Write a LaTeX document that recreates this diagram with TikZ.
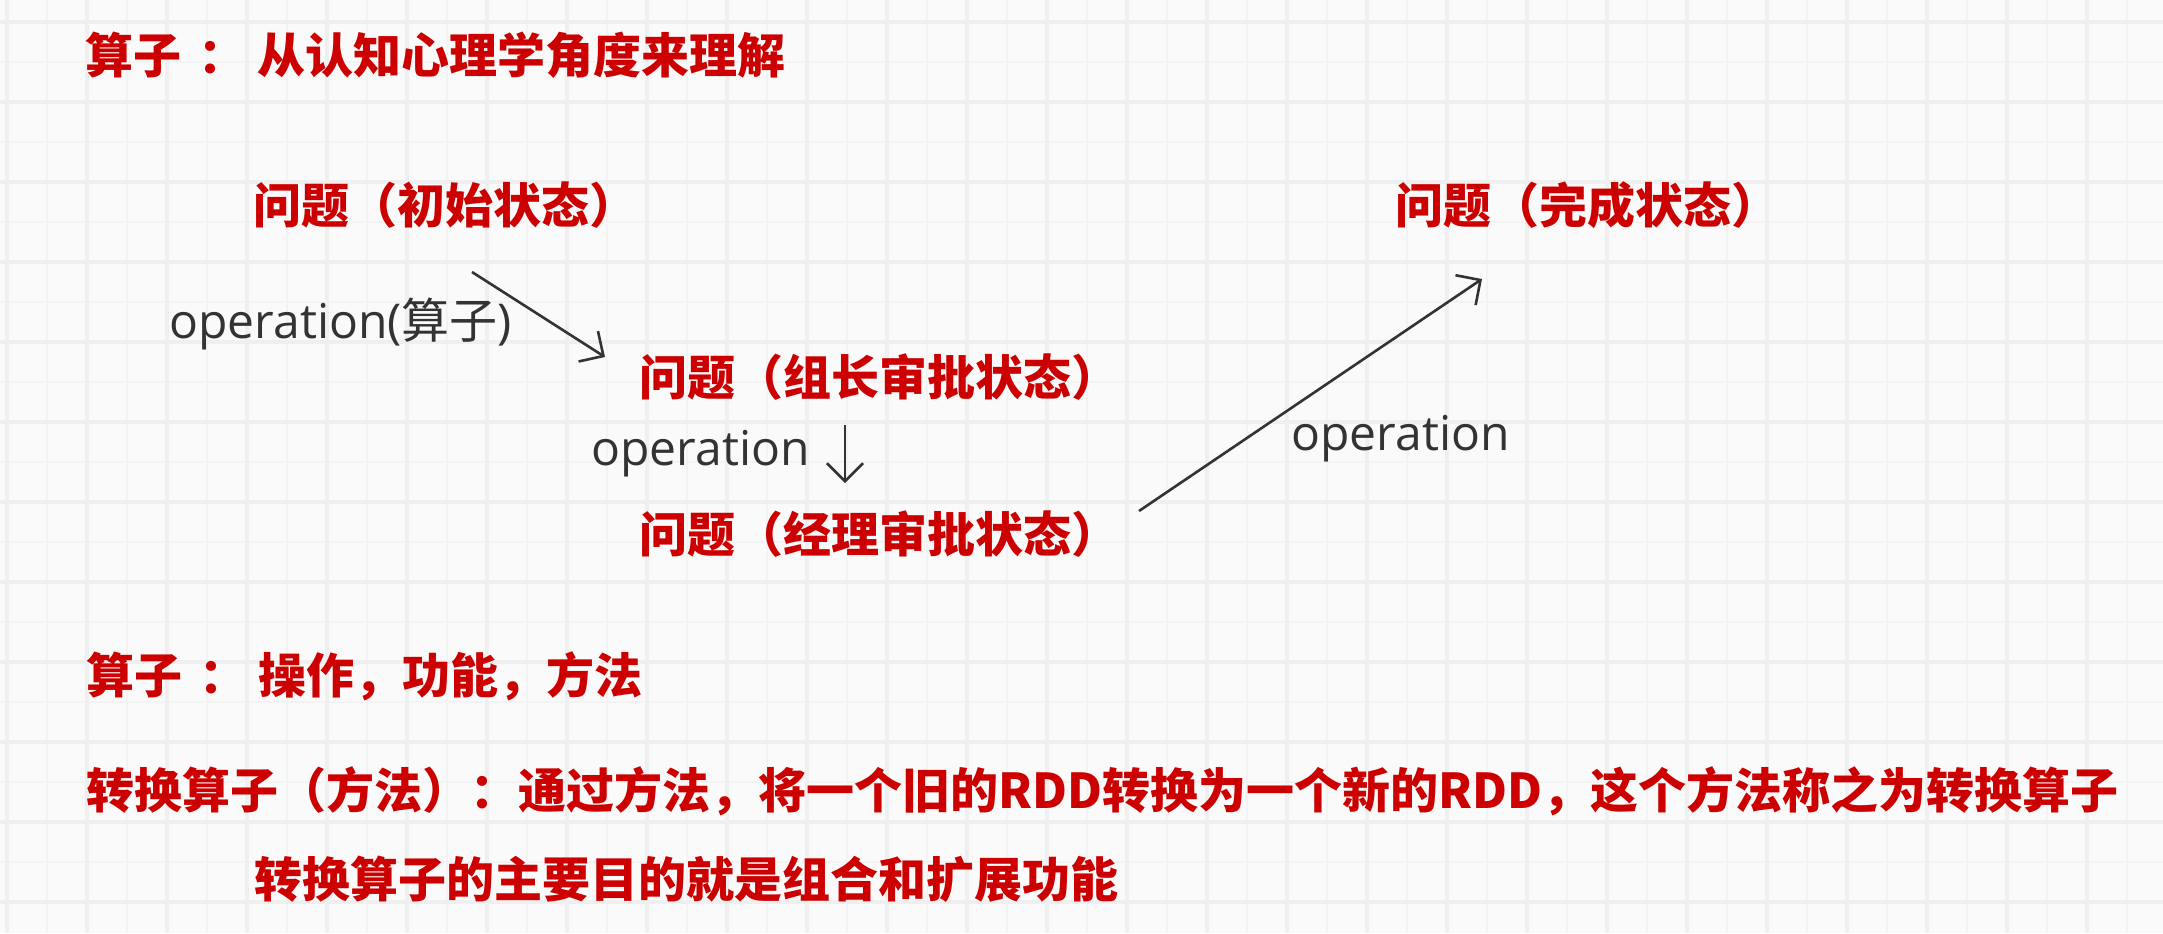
\documentclass[tikz,border=0pt]{standalone}
\usepackage{fontspec}
\usetikzlibrary{arrows.meta}
\newfontfamily\cjk{Noto Sans CJK SC}
\newfontfamily\latinfont{Open Sans}
\definecolor{titlered}{HTML}{CC0000}
\definecolor{inkgray}{HTML}{333333}
\definecolor{paper}{HTML}{FAFAFA}
\definecolor{gridthin}{HTML}{F3F3F3}
\definecolor{gridthick}{HTML}{EFEFEF}
\newcommand{\spacedcolon}{\hspace{8.5pt}：\hspace{5.5pt}}

\begin{document}
\begin{tikzpicture}[x=0.5pt, y=-0.5pt,
  state/.style={anchor=base west, inner sep=0pt, text=titlered,
    font=\cjk\bfseries\fontsize{24pt}{28pt}\selectfont},
  oplabel/.style={anchor=base west, inner sep=0pt, text=inkgray,
    font=\latinfont\fontsize{24pt}{28pt}\selectfont},
  oparrow/.style={draw=inkgray, line width=1.3pt,
    -{Straight Barb[length=9pt, width=18pt, line width=1.3pt]}}]
% grid paper
\useasboundingbox (0,0) rectangle (2163,933);
\fill[paper] (0,0) rectangle (2163,933);
\foreach \gx in {47,127,...,2127} \draw[gridthin, line width=0.9pt] (\gx,0) -- (\gx,933);
\foreach \gy in {62,142,...,862} \draw[gridthin, line width=0.9pt] (0,\gy) -- (2163,\gy);
\foreach \gx in {7,87,...,2087} \draw[gridthick, line width=1.6pt] (\gx,0) -- (\gx,933);
\foreach \gy in {22,102,...,902} \draw[gridthick, line width=1.6pt] (0,\gy) -- (2163,\gy);

% states of the problem
\node[state] (title) at (85,73) {算子\spacedcolon 从认知心理学角度来理解};
\node[state] (init) at (253,223) {问题（初始状态）};
\node[state] (done) at (1395,223) {问题（完成状态）};
\node[state] (leader) at (639,395) {问题（组长审批状态）};
\node[state] (manager) at (639,552) {问题（经理审批状态）};

% operations
\node[oplabel] (opfirst) at (169,338) {operation({\cjk 算子})};
\node[oplabel] (opsecond) at (591,465) {operation};
\node[oplabel] (opthird) at (1291,450) {operation};
\coordinate (initout) at (472,272);
\coordinate (leaderin) at (605,357);
\coordinate (leaderout) at (845,425);
\coordinate (managerin) at (845,483);
\coordinate (managerout) at (1139,511);
\coordinate (donein) at (1482,279);
\draw[oparrow] (initout) -- (leaderin);
\draw[oparrow] (leaderout) -- (managerin);
\draw[oparrow] (managerout) -- (donein);

% notes
\node[state] (meaning) at (86,693) {算子\spacedcolon 操作，功能，方法};
\node[state] (transform) at (86,808) {转换算子（方法）：通过方法，将一个旧的RDD转换为一个新的RDD，这个方法称之为转换算子};
\node[state] (purpose) at (254,897) {转换算子的主要目的就是组合和扩展功能};
\end{tikzpicture}
\end{document}
